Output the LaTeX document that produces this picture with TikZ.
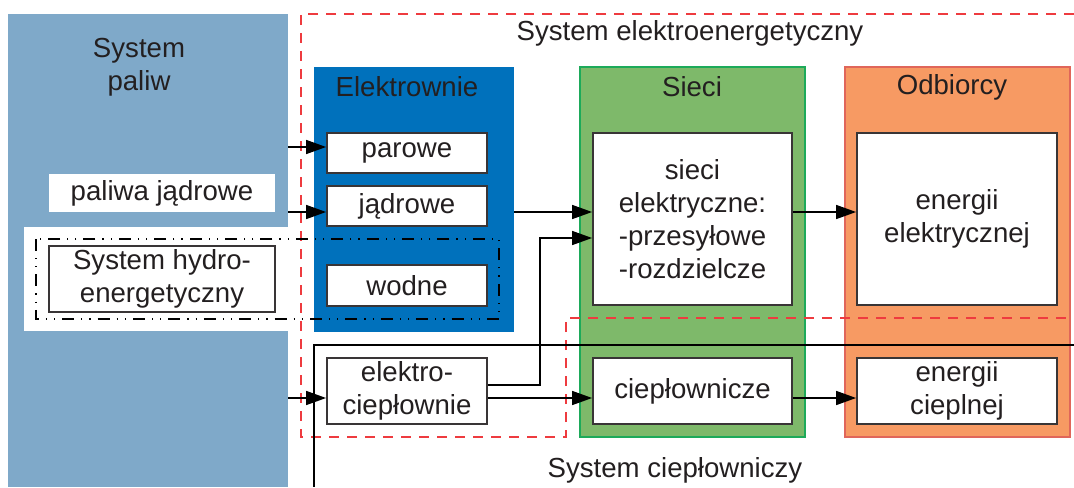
\documentclass[tikz,border=0pt]{standalone}
\usepackage{fontspec}
\setmainfont{Liberation Sans}
\usetikzlibrary{arrows.meta}

\definecolor{paliwcol}{HTML}{7FA9C9}
\definecolor{elcol}{HTML}{0071BC}
\definecolor{siecicol}{HTML}{7EB96A}
\definecolor{siecibrd}{HTML}{1DAA5A}
\definecolor{odbcol}{HTML}{F79A63}
\definecolor{odbbrd}{HTML}{E0665A}
\definecolor{dashred}{HTML}{EE3B3F}
\definecolor{txt}{HTML}{231F20}

\begin{document}
\begin{tikzpicture}
			[x=0.5pt,y=-0.5pt,
			every node/.style={font=\fontsize{13.8}{16.5}\selectfont,text=txt,inner sep=0pt,align=center},
			sysbox/.style={minimum width=112.5pt,minimum height=185pt},
			whitebox/.style={draw=txt!90,fill=white,line width=0.9pt,minimum width=80pt},
			arr/.style={line width=0.7pt,-{Triangle[length=10pt,width=7pt]}}]
			\useasboundingbox (0,0) rectangle (1074,487);
			% tla
			\node[fill=paliwcol,minimum width=140pt,minimum height=236.5pt] (paliw) at (148,250.5) {};
			\node[fill=white,minimum width=113pt,minimum height=19pt] (jadrpaliwa) at (162,193) {paliwa jądrowe};
			\node[fill=white,minimum width=145pt,minimum height=52pt] (hydrotlo) at (169,279) {};
			\node[sysbox,fill=elcol,minimum width=100pt,minimum height=132.5pt] (elektrownie) at (414,199.5) {};
			\node[sysbox,fill=siecicol,draw=siecibrd,line width=0.7pt] (sieci) at (692.5,252) {};
			\node[sysbox,fill=odbcol,draw=odbbrd,line width=0.7pt] (odbiorcy) at (957.5,252) {};
			% granice systemow
			\draw[dashred,line width=0.65pt,dash pattern=on 5pt off 4pt]
				(1074,14) -- (301,14) -- (301,437) -- (566,437) -- (566,318) -- (1074,318);
			\draw[line width=0.6pt] (1074,345) -- (314,345) -- (314,487);
			\draw[line width=0.6pt,dash pattern=on 6pt off 3.5pt on 0.6pt off 3.5pt on 0.6pt off 3.5pt]
				(36,239) rectangle (499,319);
			% opisy
			\node (paliwlbl) at (139,67) {System\\paliw};
			\node (elektrolbl) at (407,87) {Elektrownie};
			\node (siecilbl) at (692,87) {Sieci};
			\node (odblbl) at (952,87) {Odbiorcy};
			\node (sellbl) at (690,33) {System elektroenergetyczny};
			\node (scplbl) at (675,470) {System ciepłowniczy};
			% bloki
			\node[whitebox,minimum width=113pt,minimum height=33pt] (hydro) at (162,279) {System hydro-\\energetyczny};
			\node[whitebox,minimum height=20pt] (parowe) at (407,153) {parowe};
			\node[whitebox,minimum height=20pt] (jadrowe) at (407,206) {jądrowe};
			\node[whitebox,minimum height=20.5pt] (wodne) at (407,285.5) {wodne};
			\node[whitebox,minimum height=33pt] (elcieplo) at (407,391) {elektro-\\ciepłownie};
			\node[whitebox,minimum width=99.5pt,minimum height=86pt] (sieciel) at (692.5,219) {sieci\\elektryczne:\\-przesyłowe\\-rozdzielcze};
			\node[whitebox,minimum width=99.5pt,minimum height=33pt] (siecicp) at (692.5,391) {ciepłownicze};
			\node[whitebox,minimum width=100pt,minimum height=86pt] (odbel) at (957,219) {energii\\elektrycznej};
			\node[whitebox,minimum width=100pt,minimum height=33pt] (odbcp) at (957,391) {energii\\cieplnej};
			% polaczenia
			\coordinate (we1) at (288,147);
			\coordinate (we2) at (288,212);
			\coordinate (we3) at (288,398);
			\coordinate (wy1) at (487,385);
			\coordinate (zagiecie) at (540,238);
			\draw[arr] (we1) -- (we1 -| parowe.west);
			\draw[arr] (we2) -- (we2 -| jadrowe.west);
			\draw[arr] (we3) -- (we3 -| elcieplo.west);
			\draw[arr] (we2 -| elektrownie.east) -- (we2 -| sieciel.west);
			\draw[arr] (wy1 -| elcieplo.east) -| (zagiecie) -- (zagiecie -| sieciel.west);
			\draw[arr] (we3 -| elcieplo.east) -- (we3 -| siecicp.west);
			\draw[arr] (we2 -| sieciel.east) -- (we2 -| odbel.west);
			\draw[arr] (we3 -| siecicp.east) -- (we3 -| odbcp.west);
		\end{tikzpicture}
\end{document}
